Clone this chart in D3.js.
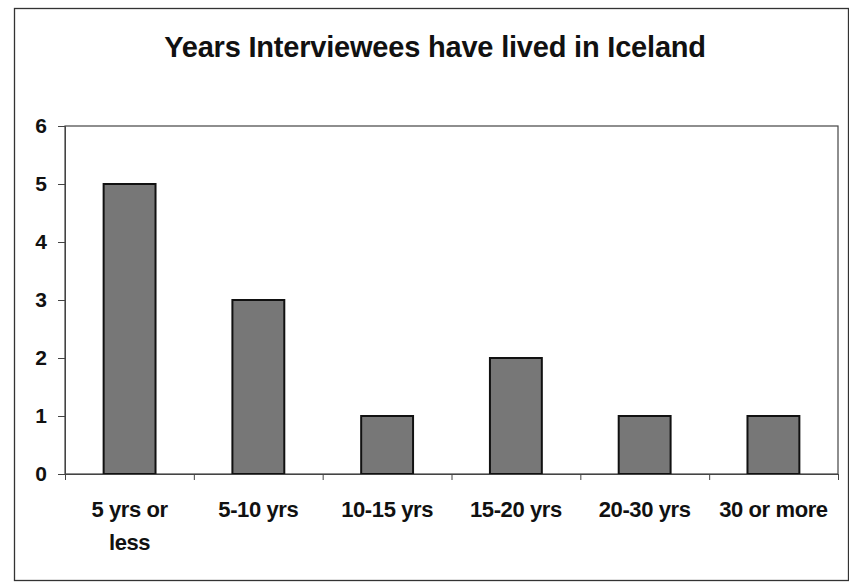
<!DOCTYPE html>
<html><head><meta charset="utf-8">
<script src="https://cdn.jsdelivr.net/npm/d3@7"></script>
<style>body{margin:0;background:#fff}svg{display:block}</style>
</head><body>
<script>
const categories = ["5 yrs or less","5-10 yrs","10-15 yrs","15-20 yrs","20-30 yrs","30 or more"];
const labelLines = [["5 yrs or","less"],["5-10 yrs"],["10-15 yrs"],["15-20 yrs"],["20-30 yrs"],["30 or more"]];
const values = [5,3,1,2,1,1];
const yTicks = [0,1,2,3,4,5,6];
const title = "Years Interviewees have lived in Iceland";

const W=849,H=585;
const svg=d3.select("body").append("svg").attr("width",W).attr("height",H);
const font="'Liberation Sans', Arial, sans-serif";

svg.append("rect").attr("x",14.5).attr("y",8.5).attr("width",834).attr("height",572)
  .attr("fill","#fff").attr("stroke","#333").attr("stroke-width",1.3);

const m={l:65,t:126,r:838,b:474};
const x=d3.scaleBand().domain(categories).range([m.l,m.r]).paddingInner(0.597).paddingOuter(0.3);
const y=d3.scaleLinear().domain([0,6]).range([m.b,m.t]);

svg.append("text").attr("x",435).attr("y",57).attr("text-anchor","middle")
  .attr("font-family",font).attr("font-weight","bold").attr("font-size",29)
  .attr("letter-spacing",-0.2).attr("fill","#111").text(title);

// plot frame
svg.append("rect").attr("x",m.l).attr("y",m.t).attr("width",m.r-m.l).attr("height",m.b-m.t)
  .attr("fill","#fff").attr("stroke","#444").attr("stroke-width",1.2);

svg.selectAll("rect.bar").data(values).join("rect").attr("class","bar")
  .attr("x",(d,i)=>x(categories[i])).attr("width",x.bandwidth())
  .attr("y",d=>y(d)).attr("height",d=>y(0)-y(d))
  .attr("fill","#777").attr("stroke","#111").attr("stroke-width",2);

const ya=svg.append("g").attr("transform",`translate(${m.l},0)`)
  .call(d3.axisLeft(y).tickValues(yTicks).tickSize(7).tickPadding(11).tickFormat(d3.format("d")));
ya.attr("font-size",null).attr("font-family",null);
ya.select(".domain").attr("stroke","#444");
ya.selectAll("line").attr("stroke","#444");
ya.selectAll("text").attr("font-family",font).attr("font-weight","bold").attr("font-size",21).attr("fill","#111");

const xb=d3.scaleLinear().domain([0,6]).range([m.l,m.r]);
const xa=svg.append("g").attr("transform",`translate(0,${m.b})`)
  .call(d3.axisBottom(xb).ticks(6).tickSize(6).tickFormat(""));
xa.select(".domain").attr("stroke","#444");
xa.selectAll("line").attr("stroke","#444");

const lg=svg.append("g");
labelLines.forEach((lines,i)=>{
  const cx=x(categories[i])+x.bandwidth()/2;
  const t=lg.append("text").attr("text-anchor","middle").attr("font-family",font)
    .attr("font-weight","bold").attr("font-size",22).attr("letter-spacing",-0.4).attr("fill","#111");
  lines.forEach((s,j)=>t.append("tspan").attr("x",cx).attr("y",517+j*33).text(s));
});
</script>
</body></html>
